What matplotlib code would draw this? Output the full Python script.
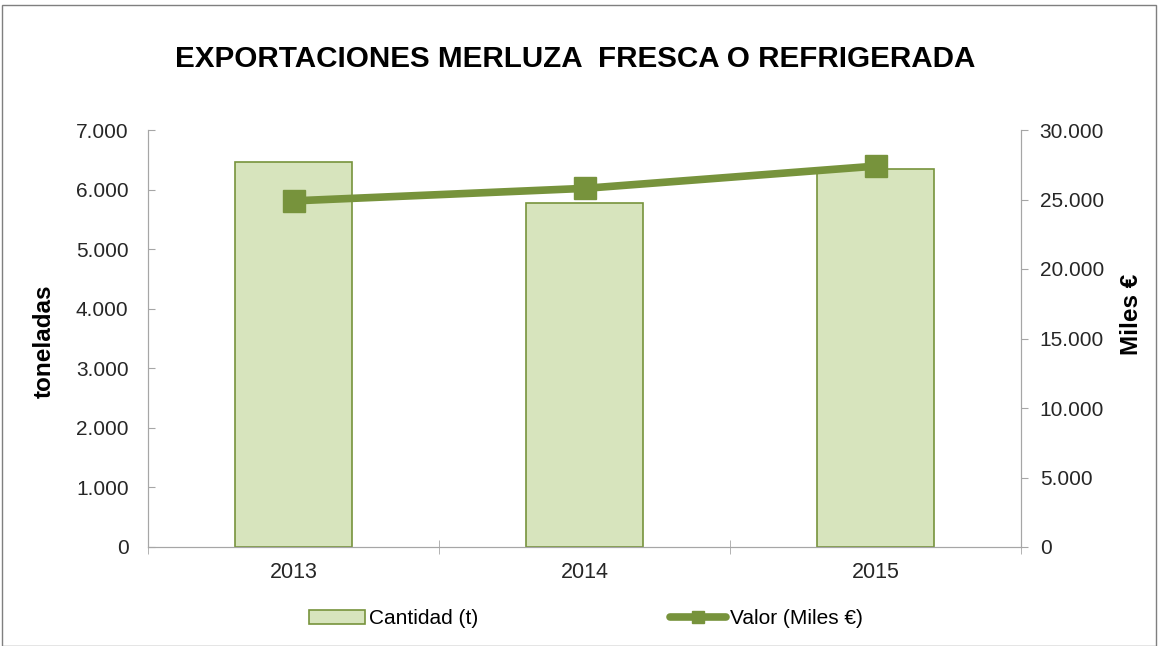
import matplotlib.pyplot as plt
from matplotlib.ticker import FuncFormatter
from matplotlib.patches import Rectangle

plt.rcParams['font.family'] = ['Liberation Sans', 'DejaVu Sans']

# Datos
anios = ['2013', '2014', '2015']
cantidad_t = [6460, 5770, 6350]
valor_miles = [24900, 25800, 27400]

verde = '#77933C'
verde_claro = '#D7E4BD'
gris = '#A6A6A6'


def miles(x, pos):
    return f'{int(round(x)):,}'.replace(',', '.')


fig = plt.figure(figsize=(11.59, 6.46), dpi=100)
fig.patches.append(Rectangle((0.002, 0.0), 0.995, 0.992, transform=fig.transFigure,
                             fill=False, edgecolor='#7F7F7F', linewidth=1))
ax = fig.add_axes([148 / 1159, 1 - 547 / 646, 873 / 1159, 417 / 646])
ax2 = ax.twinx()

x = list(range(len(anios)))
ax.bar(x, cantidad_t, width=0.4, color=verde_claro, edgecolor=verde, linewidth=1.2,
       zorder=2, label='Cantidad (t)')
ax2.plot(x, valor_miles, color=verde, linewidth=5.5, marker='s', markersize=15.5,
         solid_capstyle='round', zorder=3, label='Valor (Miles €)')

ax.set_xlim(-0.5, 2.5)
ax.set_ylim(0, 7000)
ax2.set_ylim(0, 30000)
ax.set_yticks(range(0, 7001, 1000))
ax2.set_yticks(range(0, 30001, 5000))
ax.yaxis.set_major_formatter(FuncFormatter(miles))
ax2.yaxis.set_major_formatter(FuncFormatter(miles))

ax.set_xticks(x)
ax.set_xticklabels(anios)
ax.set_xticks([-0.5, 0.5, 1.5, 2.5], minor=True)
ax.tick_params(axis='x', which='major', length=0, labelsize=15.5, pad=11)
ax.tick_params(axis='x', which='minor', length=10, color=gris, direction='inout')
ax.tick_params(axis='y', labelsize=15, length=5, color=gris, direction='in', pad=14,
               labelcolor='#262626')
ax2.tick_params(axis='y', labelsize=15, length=5, color=gris, direction='out', pad=8.5,
                labelcolor='#262626')
ax.tick_params(axis='x', labelcolor='#262626')

for a in (ax, ax2):
    a.spines['top'].set_visible(False)
    for s in ('left', 'right', 'bottom'):
        a.spines[s].set_color(gris)

fig.text(44 / 1159, 1 - 341 / 646, 'toneladas', rotation=90, ha='center', va='center',
         fontsize=17.5, fontweight='bold')
fig.text(1132 / 1159, 1 - 314 / 646, 'Miles €', rotation=90, ha='center', va='center',
         fontsize=17.5, fontweight='bold')

fig.text(575 / 1159, 1 - 59 / 646, 'EXPORTACIONES MERLUZA  FRESCA O REFRIGERADA', ha='center',
         va='center', fontsize=21.3, fontweight='bold')

h1, l1 = ax.get_legend_handles_labels()
h2, l2 = ax2.get_legend_handles_labels()
fig.legend(h1 + h2, l1 + l2, loc='center', bbox_to_anchor=(586 / 1159, 1 - 619 / 646),
           ncol=2, frameon=False, fontsize=15, columnspacing=9.2, handlelength=2.7,
           handletextpad=0.2, handleheight=0.65, markerscale=0.6)

fig.savefig('out.png', dpi=100)
